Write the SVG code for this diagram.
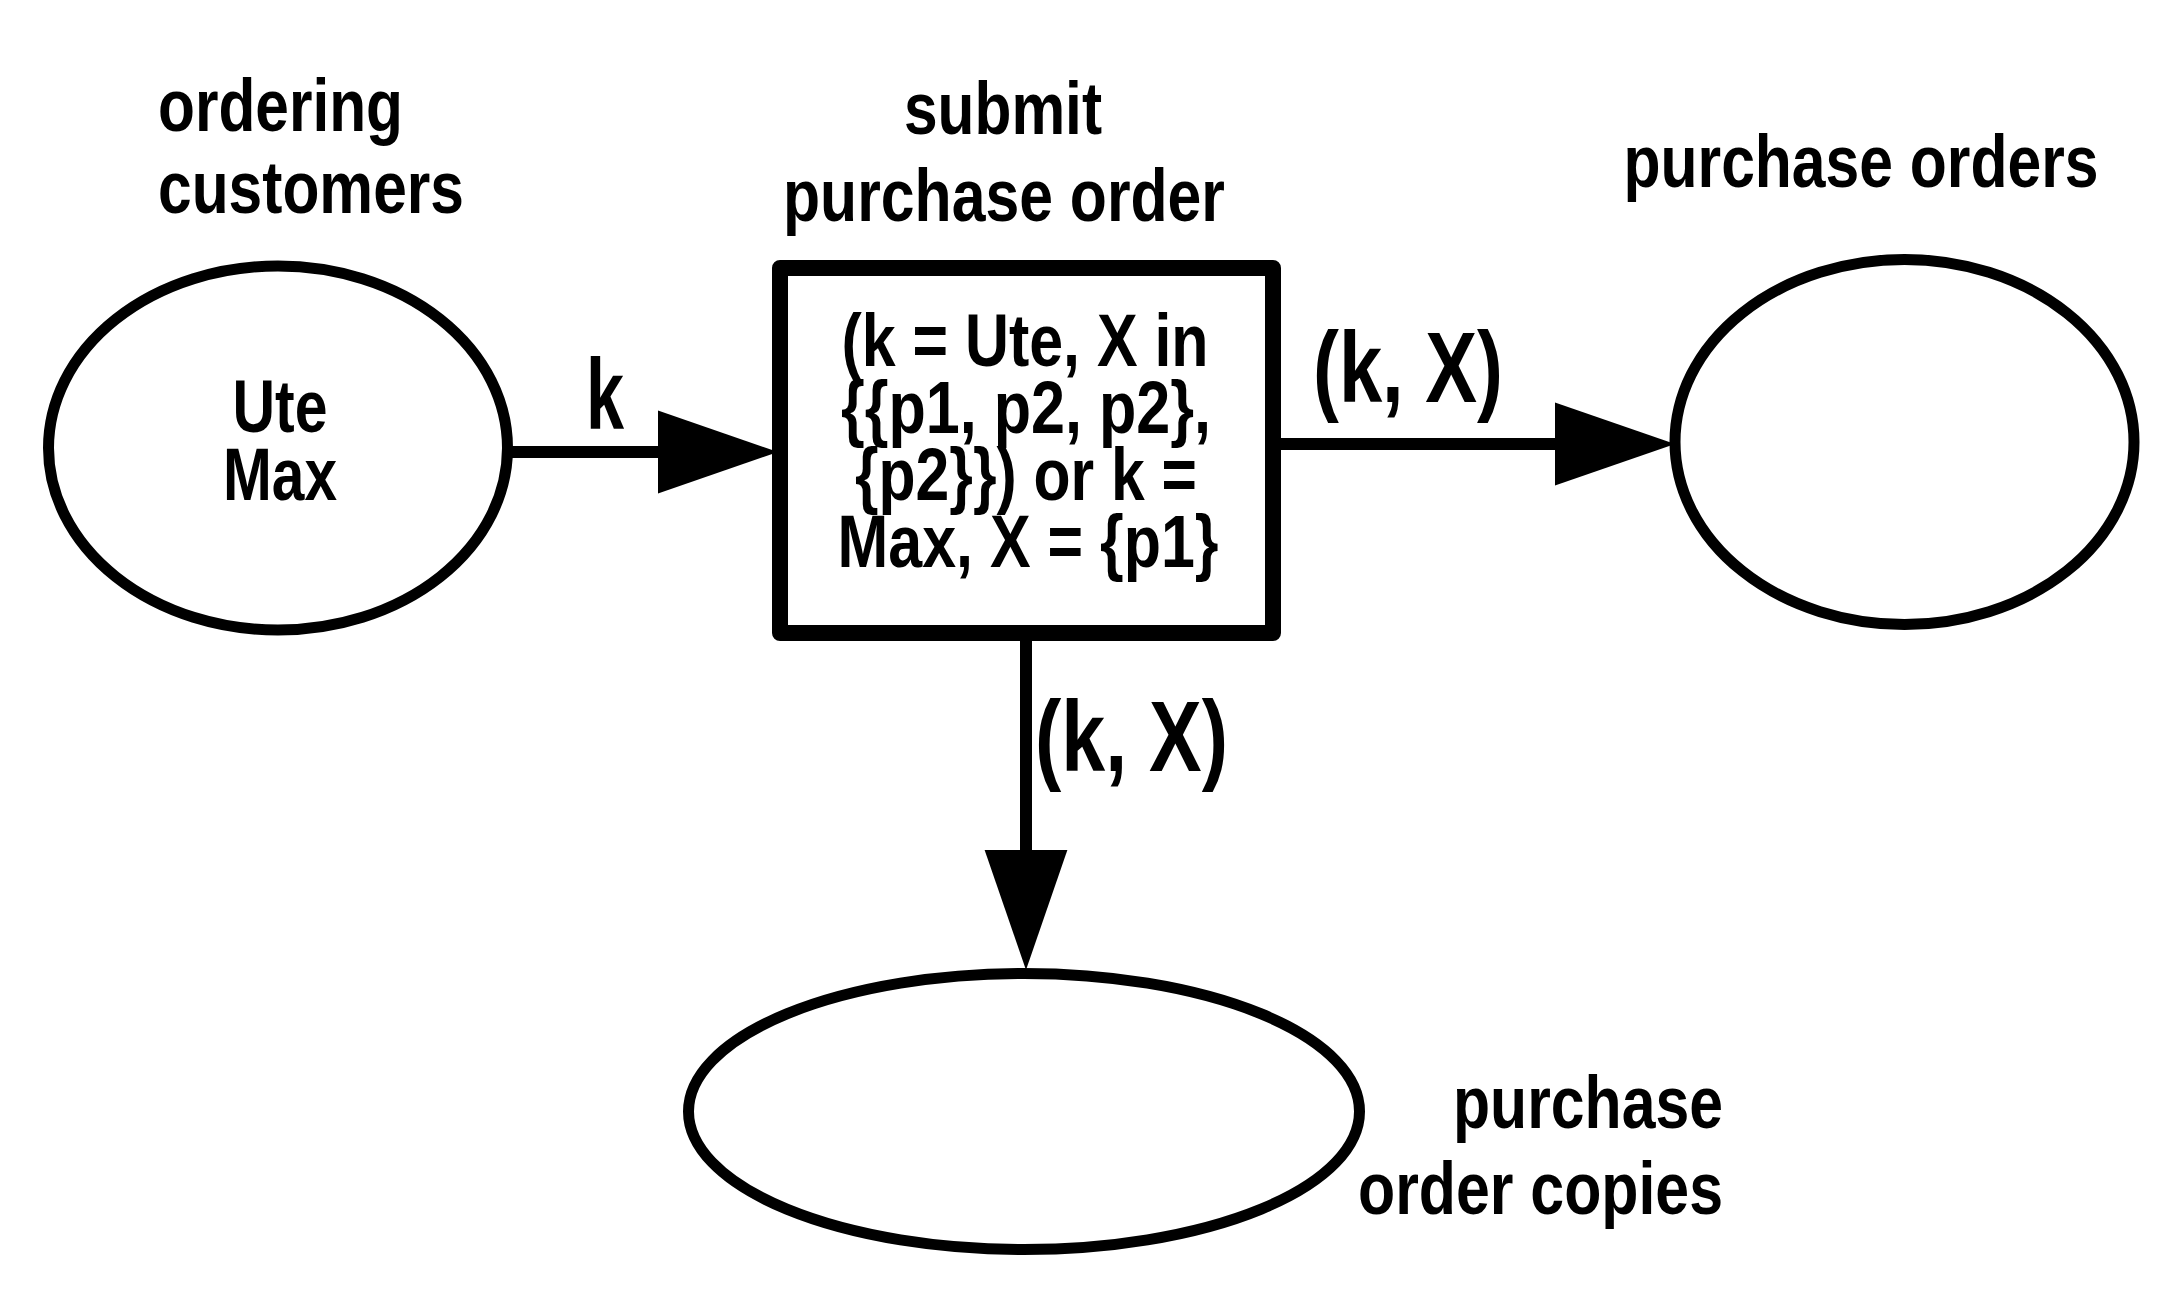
<svg xmlns="http://www.w3.org/2000/svg" width="2182" height="1308" viewBox="0 0 2182 1308">
<style>
.place{fill:#fff;stroke:#000;stroke-width:11}
.trans{fill:#fff;stroke:#000;stroke-width:16;stroke-linejoin:round}
.arc{stroke:#000;stroke-width:12;fill:none}
.lbl{font-family:"Liberation Sans",Arial,sans-serif;font-weight:bold;font-size:74px;fill:#000}
.in{font-family:"Liberation Sans",Arial,sans-serif;font-weight:bold;font-size:75px;fill:#000}
.al{font-family:"Liberation Sans",Arial,sans-serif;font-weight:bold;font-size:100px;fill:#000}
</style>
<defs>
<marker id="ah" markerUnits="userSpaceOnUse" markerWidth="120" markerHeight="84" refX="0" refY="40" orient="auto" viewBox="0 0 116 80">
<path d="M0,0 L116,40 L0,80 Z" fill="#000"/>
</marker>
</defs>
<rect width="2182" height="1308" fill="#fff"/>
<g id="connectors">
<line class="arc" x1="507" y1="452" x2="658" y2="452" marker-end="url(#ah)"/>
<line class="arc" x1="1281" y1="444" x2="1555" y2="444" marker-end="url(#ah)"/>
<line class="arc" x1="1026" y1="641" x2="1026" y2="850" marker-end="url(#ah)"/>
<text class="al" x="586" y="429" textLength="38" lengthAdjust="spacingAndGlyphs">k</text>
<text class="al" x="1313" y="402" textLength="190" lengthAdjust="spacingAndGlyphs">(k, X)</text>
<text class="al" x="1035" y="771" textLength="193" lengthAdjust="spacingAndGlyphs">(k, X)</text>
</g>
<g id="ordering-customers">
<ellipse class="place" cx="278" cy="448" rx="229.5" ry="182"/>
<text class="lbl" x="158" y="131" textLength="245" lengthAdjust="spacingAndGlyphs">ordering</text>
<text class="lbl" x="158" y="213" textLength="306" lengthAdjust="spacingAndGlyphs">customers</text>
<text class="lbl" x="280" y="432" text-anchor="middle" textLength="95" lengthAdjust="spacingAndGlyphs">Ute</text>
<text class="lbl" x="280" y="500" text-anchor="middle" textLength="114" lengthAdjust="spacingAndGlyphs">Max</text>
</g>
<g id="submit-purchase-order">
<rect class="trans" x="780" y="268" width="493" height="365"/>
<text class="lbl" x="1003" y="134" text-anchor="middle" textLength="198" lengthAdjust="spacingAndGlyphs">submit</text>
<text class="lbl" x="1004" y="221" text-anchor="middle" textLength="442" lengthAdjust="spacingAndGlyphs">purchase order</text>
<text class="in" x="1025" y="366" text-anchor="middle" textLength="367" lengthAdjust="spacingAndGlyphs">(k = Ute, X in</text>
<text class="in" x="1026" y="433" text-anchor="middle" textLength="370" lengthAdjust="spacingAndGlyphs">{{p1, p2, p2},</text>
<text class="in" x="1026" y="500" text-anchor="middle" textLength="342" lengthAdjust="spacingAndGlyphs">{p2}}) or k =</text>
<text class="in" x="1028" y="567" text-anchor="middle" textLength="381" lengthAdjust="spacingAndGlyphs">Max, X = {p1}</text>
</g>
<g id="purchase-orders">
<ellipse class="place" cx="1904.5" cy="442" rx="229.5" ry="182.5"/>
<text class="lbl" x="1861" y="187" text-anchor="middle" textLength="475" lengthAdjust="spacingAndGlyphs">purchase orders</text>
</g>
<g id="purchase-order-copies">
<ellipse class="place" cx="1024" cy="1111.5" rx="335.5" ry="138"/>
<text class="lbl" x="1723" y="1128" text-anchor="end" textLength="270" lengthAdjust="spacingAndGlyphs">purchase</text>
<text class="lbl" x="1723" y="1214" text-anchor="end" textLength="365" lengthAdjust="spacingAndGlyphs">order copies</text>
</g>
</svg>
